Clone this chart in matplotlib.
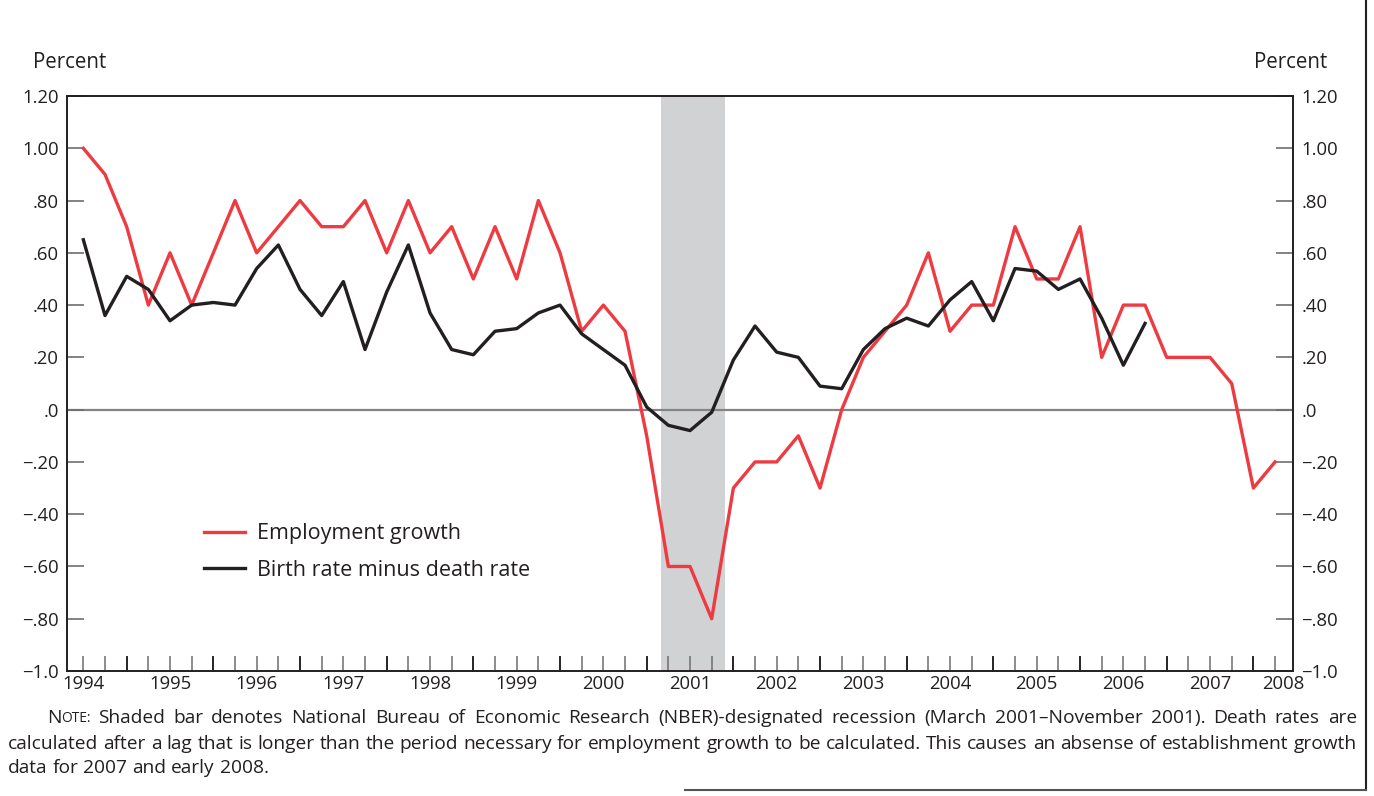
import numpy as np
import matplotlib.pyplot as plt
from matplotlib.lines import Line2D

plt.rcParams['font.family'] = ['Open Sans', 'DejaVu Sans']

# quarterly data, starting 1994Q1
emp_growth = [1.00, 0.90, 0.70, 0.40, 0.60, 0.40, 0.60, 0.80, 0.60, 0.70,
              0.80, 0.70, 0.70, 0.80, 0.60, 0.80, 0.60, 0.70, 0.50, 0.70,
              0.50, 0.80, 0.60, 0.30, 0.40, 0.30, -0.10, -0.60, -0.60, -0.80,
              -0.30, -0.20, -0.20, -0.10, -0.30, 0.00, 0.20, 0.30, 0.40, 0.60,
              0.30, 0.40, 0.40, 0.70, 0.50, 0.50, 0.70, 0.20, 0.40, 0.40,
              0.20, 0.20, 0.20, 0.10, -0.30, -0.20]
birth_minus_death = [0.65, 0.36, 0.51, 0.46, 0.34, 0.40, 0.41, 0.40, 0.54, 0.63,
                     0.46, 0.36, 0.49, 0.23, 0.45, 0.63, 0.37, 0.23, 0.21, 0.30,
                     0.31, 0.37, 0.40, 0.29, 0.23, 0.17, 0.01, -0.06, -0.08, -0.01,
                     0.19, 0.32, 0.22, 0.20, 0.09, 0.08, 0.23, 0.31, 0.35, 0.32,
                     0.42, 0.49, 0.34, 0.54, 0.53, 0.46, 0.50, 0.35, 0.17, 0.33]
recession = (2000.667, 2001.40)
year_labels = ['1994', '1995', '1996', '1997', '1998', '1999', '2000', '2001',
               '2002', '2003', '2004', '2005', '2006', '2007', '2008']
year_pos = [1994, 1995, 1996, 1997, 1998, 1999, 2000, 2001,
            2002, 2003, 2004, 2005, 2006, 2007, 2007.84]
yticks = [1.2, 1.0, 0.8, 0.6, 0.4, 0.2, 0.0, -0.2, -0.4, -0.6, -0.8, -1.0]
ytick_labels = ['1.20', '1.00', '.80', '.60', '.40', '.20', '.0',
                '\u2212.20', '\u2212.40', '\u2212.60', '\u2212.80', '\u22121.0']
note_lines = [
    'Shaded bar denotes National Bureau of Economic Research (NBER)-designated '
    'recession (March 2001\u2013November 2001). Death rates are',
    'calculated after a lag that is longer than the period necessary for '
    'employment growth to be calculated. This causes an absense of '
    'establishment growth',
    'data for 2007 and early 2008.',
]

RED = '#EE3B42'
BLACK = '#231F20'
W, H = 1374, 796

t_emp = 1994 + np.arange(len(emp_growth)) / 4
t_bd = 1994 + np.arange(len(birth_minus_death)) / 4

fig = plt.figure(figsize=(13.74, 7.96), dpi=100)
ax = fig.add_axes([0.0488, 0.1570, 0.8923, 0.7224])

ax.axvspan(recession[0], recession[1], color='#D1D2D4', lw=0, zorder=0)
ax.axhline(0, color='#848484', lw=1.6, zorder=1)
ax.plot(t_emp, emp_growth, color=RED, lw=2.4, label='Employment growth', zorder=3)
ax.plot(t_bd, birth_minus_death, color=BLACK, lw=2.4,
        label='Birth rate minus death rate', zorder=3)

ax.set_xlim(1993.812, 2007.958)
ax.set_ylim(-1.0, 1.2)

for s in ax.spines.values():
    s.set_color(BLACK)
    s.set_linewidth(1.4)

ax.set_yticks(yticks)
ax.set_yticklabels(ytick_labels)
ax.tick_params(axis='y', which='both', direction='in', length=12, width=1.2,
               color='#6D6E70', left=True, right=True, labelleft=True,
               labelright=True, labelsize=13.3, pad=6, labelcolor=BLACK)

# quarterly ticks, longer and darker at mid-year
ax.xaxis.remove_overlapping_locs = False
ax.set_xticks(1994 + np.arange(56) / 4, minor=True)
ax.tick_params(axis='x', which='minor', direction='in', length=11, width=1.1,
               color='#6D6E70')
ax.set_xticks(year_pos)
ax.set_xticklabels(year_labels)
ax.tick_params(axis='x', which='major', length=0, labelsize=13.3, pad=3,
               labelcolor=BLACK)
for x in 1994.5 + np.arange(14):
    ax.plot([x, x], [-1.0, -0.945], color=BLACK, lw=1.3, zorder=2, clip_on=False)

fig.text(33 / W, 1 - 62 / H, 'Percent', fontsize=14.8, va='center',
         ha='left', color=BLACK)
fig.text(1327 / W, 1 - 62 / H, 'Percent', fontsize=14.8, va='center',
         ha='right', color=BLACK)

leg = ax.legend(loc='upper left', bbox_to_anchor=(0.105, 0.272), frameon=False,
                fontsize=15.5, handlelength=1.9, handletextpad=0.55,
                labelspacing=0.72, borderaxespad=0)
for txt in leg.get_texts():
    txt.set_color(BLACK)

# note text: size chosen so the lines fit with about normal spacing, then justified
renderer = fig.canvas.get_renderer()


def text_width(s, size):
    t = fig.text(0, 0, s, fontsize=size)
    w = t.get_window_extent(renderer).width
    t.remove()
    return w


x_start1 = 98
x_right = 1357
r1 = (x_right - x_start1) / text_width(note_lines[0], 10)
r2 = (x_right - 8) / text_width(note_lines[1], 10)
fs = 10 * min(r1, r2)


def put_words(x0, x1, y, words, justify=True):
    texts = [fig.text(0, y, w, fontsize=fs, va='center', color=BLACK)
             for w in words]
    widths = [t.get_window_extent(renderer).width for t in texts]
    if justify:
        gap = (x1 - x0 - sum(widths)) / (len(words) - 1)
    else:
        gap = text_width('a b', fs) - text_width('ab', fs)
    x = x0
    for t, w in zip(texts, widths):
        t.set_x(x / W)
        x += w + gap


y1 = 1 - 718 / H
n1 = fig.text(47 / W, y1, 'N', fontsize=fs, va='center', color=BLACK)
wn = n1.get_window_extent(renderer).width
fig.text((47 + wn) / W, y1, 'OTE:', fontsize=fs * 0.72, va='center',
         color=BLACK)
put_words(x_start1, x_right, y1, note_lines[0].split())
put_words(8, x_right, 1 - 744 / H, note_lines[1].split())
put_words(8, x_right, 1 - 768 / H, note_lines[2].split(), justify=False)

# page frame pieces
fig.add_artist(Line2D([1366 / W, 1366 / W], [1, 1 - 790 / H],
                      color=BLACK, lw=1.5, transform=fig.transFigure))
fig.add_artist(Line2D([685 / W, 1366 / W], [1 - 790 / H, 1 - 790 / H],
                      color='#555555', lw=1.5, transform=fig.transFigure))

fig.savefig('out.png', dpi=100)
